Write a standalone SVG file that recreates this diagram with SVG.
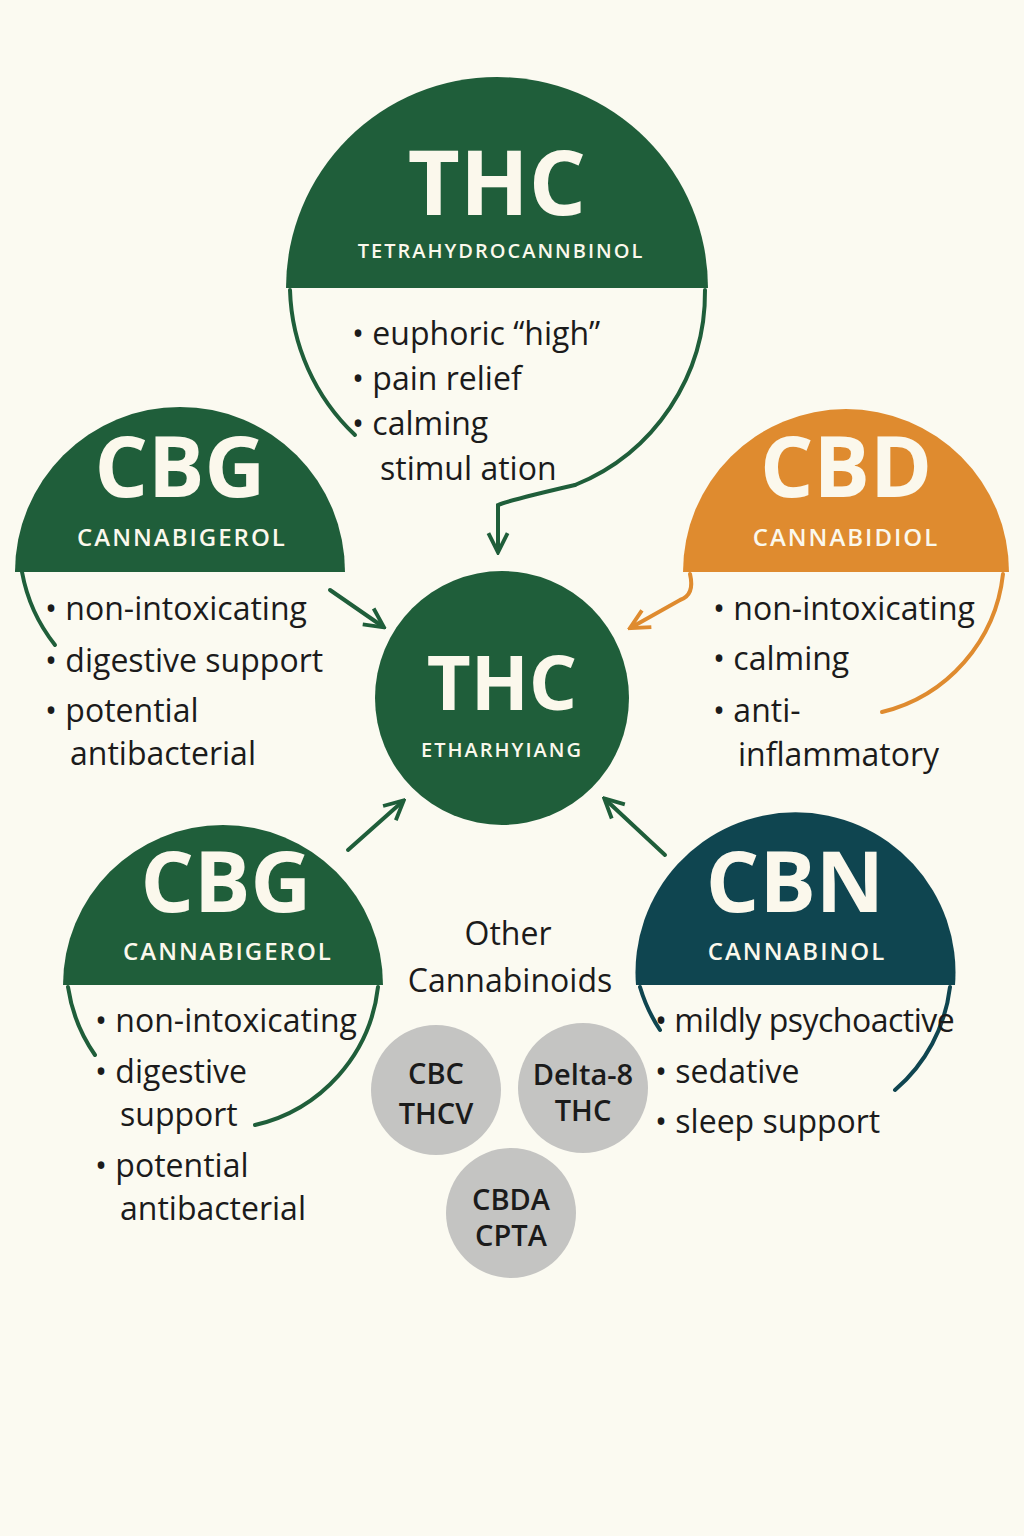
<svg xmlns="http://www.w3.org/2000/svg" width="1024" height="1536" viewBox="0 0 1024 1536">
<defs>
<style>
.t{font-family:"Open Sans","DejaVu Sans",sans-serif;font-weight:700;fill:#fbf8ec;text-anchor:middle}
.s{font-family:"Open Sans","DejaVu Sans",sans-serif;font-weight:600;fill:#fbf8ec;text-anchor:middle;letter-spacing:2px}
.b{font-family:"Open Sans","DejaVu Sans",sans-serif;font-size:32px;fill:#1b1b1b}
.g{font-family:"Open Sans","DejaVu Sans",sans-serif;font-size:29px;fill:#1b1b1b;text-anchor:middle;font-weight:600}
.ol{fill:none;stroke-width:4;stroke-linecap:round}
.gr{stroke:#1f5e3a}
</style>
<marker id="ag" viewBox="0 0 10 10" refX="8" refY="5" markerWidth="6" markerHeight="6" orient="auto"><path d="M1,1 L9,5 L1,9" fill="none" stroke="#1f5e3a" stroke-width="1.6"/></marker>
<marker id="ao" viewBox="0 0 10 10" refX="8" refY="5" markerWidth="6" markerHeight="6" orient="auto"><path d="M1,1 L9,5 L1,9" fill="none" stroke="#df8b2f" stroke-width="1.6"/></marker>
</defs>
<rect width="1024" height="1536" fill="#fbfaf1"/>
<g id="thc-top">
<path d="M286,288 A211,211 0 0 1 708,288 Z" fill="#1f5e3a"/>
<path class="ol gr" d="M290,290 A208,208 0 0 0 355,435"/>
<path class="ol gr" d="M705,290 A208,208 0 0 1 575,485"/>
<text class="t" x="497" y="215" font-size="90">THC</text>
<text class="s" x="501" y="258" font-size="20">TETRAHYDROCANNBINOL</text>
<text class="b" x="352" y="345">• euphoric “high”</text>
<text class="b" x="352" y="390">• pain relief</text>
<text class="b" x="352" y="435">• calming</text>
<text class="b" x="380" y="480">stimul ation</text>
</g>
<g id="cbg-left">
<path d="M15,572 A165,165 0 1 1 345,572 Z" fill="#1f5e3a"/>
<path class="ol gr" d="M22,572 A165,165 0 0 0 55,645"/>
<text class="t" x="180" y="497" font-size="84">CBG</text>
<text class="s" x="182" y="546" font-size="24">CANNABIGEROL</text>
<text class="b" x="45" y="620">• non-intoxicating</text>
<text class="b" x="45" y="672">• digestive support</text>
<text class="b" x="45" y="722">• potential</text>
<text class="b" x="70" y="765">antibacterial</text>
</g>
<g id="cbd">
<path d="M683,572 A163,163 0 1 1 1009,572 Z" fill="#df8b2f"/>
<path class="ol" stroke="#df8b2f" d="M1003,574 A160,160 0 0 1 882,712"/>
<text class="t" x="846" y="497" font-size="84">CBD</text>
<text class="s" x="846" y="546" font-size="24">CANNABIDIOL</text>
<text class="b" x="713" y="620">• non-intoxicating</text>
<text class="b" x="713" y="670">• calming</text>
<text class="b" x="713" y="722">• anti-</text>
<text class="b" x="738" y="766">inflammatory</text>
</g>
<g id="thc-center">
<circle cx="502" cy="698" r="127" fill="#1f5e3a"/>
<text class="t" x="502" y="710" font-size="76">THC</text>
<text class="s" x="502" y="757" font-size="20">ETHARHYIANG</text>
</g>
<g id="cbg-bottom">
<path d="M63,985 A160,160 0 1 1 383,985 Z" fill="#1f5e3a"/>
<path class="ol gr" d="M68,987 A160,160 0 0 0 95,1055"/>
<path class="ol gr" d="M378,987 A160,160 0 0 1 255,1125"/>
<text class="t" x="226" y="912" font-size="84">CBG</text>
<text class="s" x="228" y="960" font-size="24">CANNABIGEROL</text>
<text class="b" x="95" y="1032">• non-intoxicating</text>
<text class="b" x="95" y="1083">• digestive</text>
<text class="b" x="120" y="1126">support</text>
<text class="b" x="95" y="1177">• potential</text>
<text class="b" x="120" y="1220">antibacterial</text>
</g>
<g id="cbn">
<path d="M636,985 A160,160 0 1 1 955,985 Z" fill="#0f4550"/>
<path class="ol" stroke="#0f4550" d="M640,987 A160,160 0 0 0 660,1030"/>
<path class="ol" stroke="#0f4550" d="M950,987 A160,160 0 0 1 895,1090"/>
<text class="t" x="795" y="912" font-size="84">CBN</text>
<text class="s" x="797" y="960" font-size="24">CANNABINOL</text>
<text class="b" x="655" y="1032" font-size="30" letter-spacing="-0.5">• mildly psychoactive</text>
<text class="b" x="655" y="1083">• sedative</text>
<text class="b" x="655" y="1133">• sleep support</text>
</g>
<g id="other">
<text class="b" x="508" y="945" text-anchor="middle" font-weight="500">Other</text>
<text class="b" x="510" y="992" text-anchor="middle" font-weight="500">Cannabinoids</text>
<circle cx="436" cy="1090" r="65" fill="#c4c4c2"/>
<circle cx="583" cy="1088" r="65" fill="#c4c4c2"/>
<circle cx="511" cy="1213" r="65" fill="#c4c4c2"/>
<text class="g" x="436" y="1084">CBC</text>
<text class="g" x="436" y="1124">THCV</text>
<text class="g" x="583" y="1085">Delta-8</text>
<text class="g" x="583" y="1121">THC</text>
<text class="g" x="511" y="1210">CBDA</text>
<text class="g" x="511" y="1246">CPTA</text>
</g>
<g id="connectors">
<path class="ol gr" d="M575,485 Q510,500 498,505 L498,550" marker-end="url(#ag)"/>
<path class="ol gr" d="M330,590 L382,626" marker-end="url(#ag)"/>
<path class="ol" stroke="#df8b2f" d="M690,574 Q695,595 680,600 L632,627" marker-end="url(#ao)"/>
<path class="ol gr" d="M348,850 L402,802" marker-end="url(#ag)"/>
<path class="ol gr" d="M665,855 L606,800" marker-end="url(#ag)"/>
</g>
</svg>
